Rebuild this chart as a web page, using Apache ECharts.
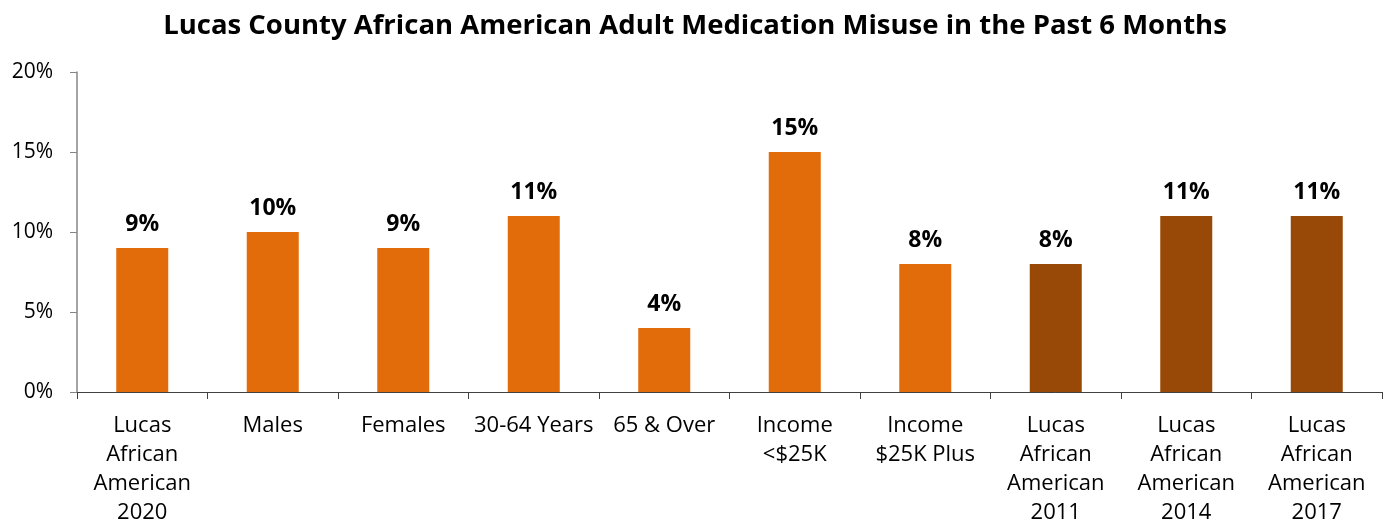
<!DOCTYPE html>
<html>
<head>
<meta charset="utf-8">
<script src="https://cdn.jsdelivr.net/npm/echarts@6/dist/echarts.min.js"></script>
<style>
  html, body { margin: 0; padding: 0; background: #fff; }
  #chart { width: 1390px; height: 527px; }
</style>
</head>
<body>
<div id="chart"></div>
<script>
// Categories along the x axis
const categories = [
  'Lucas\nAfrican\nAmerican\n2020',
  'Males',
  'Females',
  '30-64 Years',
  '65 & Over',
  'Income\n<$25K',
  'Income\n$25K Plus',
  'Lucas\nAfrican\nAmerican\n2011',
  'Lucas\nAfrican\nAmerican\n2014',
  'Lucas\nAfrican\nAmerican\n2017'
];
// Percent of adults misusing medication
const values = [9, 10, 9, 11, 4, 15, 8, 8, 11, 11];
// Current-year groups vs. earlier survey years
const isTrend = [false, false, false, false, false, false, false, true, true, true];
const yTicks = [0, 5, 10, 15, 20];

const CUR = '#E36C0A';
const PAST = '#984807';
const FONT = '"Open Sans", "Noto Sans", sans-serif';

const chart = echarts.init(document.getElementById('chart'));
chart.setOption({
  animation: false,
  title: {
    text: 'Lucas County African American Adult Medication Misuse in the Past 6 Months',
    left: 'center',
    top: 7,
    textStyle: { fontFamily: FONT, fontWeight: 'bold', fontSize: 27.5, color: '#000' }
  },
  grid: { left: 77, right: 8, top: 72, bottom: 131, containLabel: false },
  xAxis: {
    type: 'category',
    data: categories,
    axisLine: { lineStyle: { color: '#404040', width: 1 } },
    axisTick: { show: true, length: 7, alignWithLabel: false, lineStyle: { color: '#404040' } },
    axisLabel: {
      interval: 0,
      margin: 19,
      fontFamily: FONT,
      fontSize: 22,
      lineHeight: 29,
      color: '#000'
    }
  },
  yAxis: {
    type: 'value',
    min: yTicks[0],
    max: yTicks[yTicks.length - 1],
    interval: 5,
    splitLine: { show: false },
    axisLine: { show: true, lineStyle: { color: '#868686', width: 1.5 } },
    axisTick: { show: true, length: 7, lineStyle: { color: '#868686' } },
    axisLabel: {
      margin: 24,
      fontFamily: FONT,
      fontSize: 21,
      color: '#000',
      formatter: v => v + '%'
    }
  },
  series: [{
    type: 'bar',
    barWidth: 52,
    data: values.map((v, i) => ({
      value: v,
      itemStyle: { color: isTrend[i] ? PAST : CUR }
    })),
    label: {
      show: true,
      position: 'top',
      distance: 12,
      fontFamily: FONT,
      fontWeight: 'bold',
      fontSize: 23,
      color: '#000',
      formatter: p => p.value + '%'
    }
  }]
});
</script>
</body>
</html>
